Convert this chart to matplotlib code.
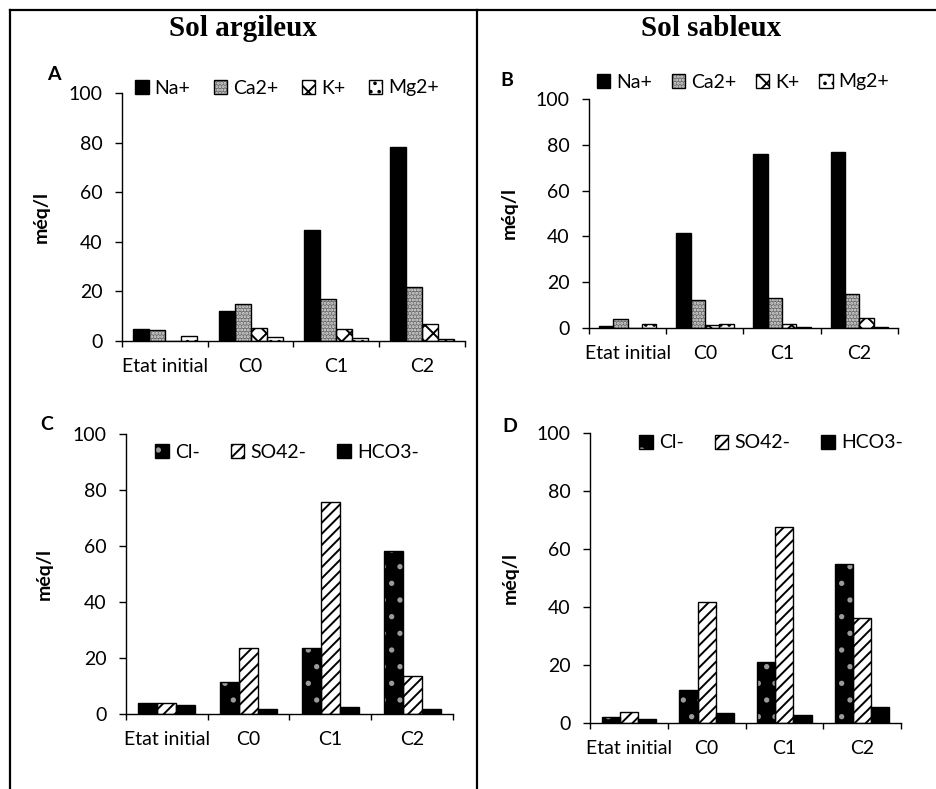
import matplotlib
matplotlib.use('Agg')
import matplotlib.pyplot as plt
from matplotlib.patches import Patch
from matplotlib.lines import Line2D
import numpy as np

plt.rcParams['font.family'] = ['Lato', 'DejaVu Sans']
plt.rcParams['hatch.linewidth'] = 1.4

# --- données ---
categories = ['Etat initial', 'C0', 'C1', 'C2']

cations = ['Na+', 'Ca2+', 'K+', 'Mg2+']
na_arg = [4.8, 12.2, 44.8, 78.3]
ca_arg = [4.6, 14.9, 17.1, 21.6]
k_arg = [0.0, 5.1, 5.0, 6.9]
mg_arg = [2.0, 1.5, 1.2, 0.8]

na_sab = [0.9, 41.3, 76.0, 76.8]
ca_sab = [4.1, 12.2, 13.1, 14.7]
k_sab = [0.0, 1.5, 1.7, 4.5]
mg_sab = [1.9, 1.6, 0.5, 0.5]

anions = ['Cl-', 'SO42-', 'HCO3-']
cl_arg = [4.1, 11.6, 23.4, 58.2]
so4_arg = [4.1, 23.4, 75.6, 13.4]
hco3_arg = [3.1, 1.8, 2.4, 1.8]

cl_sab = [1.9, 11.5, 21.0, 54.9]
so4_sab = [3.9, 41.8, 67.7, 36.2]
hco3_sab = [1.4, 3.4, 2.9, 5.5]

# styles: (couleur de fond, couleur du motif, motif)
styles_cations = [('black', 'black', None),
                  ('#6e6e6e', '#e0e0e0', '.....'),
                  ('white', 'black', 'xx'),
                  ('white', 'black', '..')]
styles_anions = [('black', '#9a9a9a', '.'),
                 ('white', 'black', '///'),
                 ('black', 'black', None)]

FS = 14
W, H = 937, 789
fig = plt.figure(figsize=(W / 100, H / 100), dpi=100)


def px_axes(left, top, right, bottom):
    return fig.add_axes([left / W, 1 - bottom / H, (right - left) / W, (bottom - top) / H])


def tracer(ax, series, noms, styles, largeur, lettre, lettre_xy, leg_xy, colsp, ylab_x):
    n = len(series)
    x = np.arange(len(categories)) + 0.5
    poignees = []
    for k, (vals, (fc, hc, h)) in enumerate(zip(series, styles)):
        pos = x + (k - (n - 1) / 2) * largeur
        ax.bar(pos, vals, largeur, color=fc, edgecolor=hc, hatch=h, linewidth=0, zorder=2)
        ax.bar(pos, vals, largeur, fill=False, edgecolor='black', linewidth=1.0, zorder=3)
        poignees.append((Patch(facecolor=fc, edgecolor=hc, hatch=h, linewidth=0),
                         Patch(fill=False, edgecolor='black', linewidth=1.0)))
    ax.set_xlim(0, 4)
    ax.set_ylim(0, 100)
    ax.set_yticks([0, 20, 40, 60, 80, 100])
    ax.set_xticks([0, 1, 2, 3, 4])
    ax.set_xticklabels([])
    ax.set_xticks(x, minor=True)
    ax.set_xticklabels(categories, minor=True, fontsize=FS)
    ax.tick_params(axis='x', which='major', direction='out', length=4.5, width=1)
    ax.tick_params(axis='x', which='minor', length=0, pad=12)
    ax.tick_params(axis='y', direction='out', length=5, width=1, pad=9, labelsize=FS)
    for s in ['top', 'right']:
        ax.spines[s].set_visible(False)
    for s in ['left', 'bottom']:
        ax.spines[s].set_linewidth(1.0)
    ax.set_ylabel('méq/l', fontsize=FS, fontweight='bold')
    ax.yaxis.set_label_coords(ylab_x, 0.5)
    fig.text(lettre_xy[0] / W, 1 - lettre_xy[1] / H, lettre, fontsize=FS,
             fontweight='bold', ha='center', va='center')
    fig.legend(poignees, noms, loc='center', ncol=n, frameon=False,
               bbox_to_anchor=(leg_xy[0] / W, 1 - leg_xy[1] / H),
               fontsize=FS, handlelength=0.7, handleheight=0.7,
               handletextpad=0.3, columnspacing=colsp, borderpad=0)


ax_a = px_axes(122, 93, 465, 341)
tracer(ax_a, [na_arg, ca_arg, k_arg, mg_arg], cations, styles_cations, 0.186,
       'A', (54, 74), (287, 88), 1.2, -0.21)

ax_b = px_axes(589, 99, 898, 328)
tracer(ax_b, [na_sab, ca_sab, k_sab, mg_sab], cations, styles_cations, 0.186,
       'B', (507, 81), (743, 82), 1.0, -0.23)

ax_c = px_axes(126, 434, 453, 714)
tracer(ax_c, [cl_arg, so4_arg, hco3_arg], anions, styles_anions, 0.233,
       'C', (47, 424), (287, 452), 1.6, -0.223)

ax_d = px_axes(590, 433, 901, 723)
tracer(ax_d, [cl_sab, so4_sab, hco3_sab], anions, styles_anions, 0.233,
       'D', (510, 427), (771, 443), 1.6, -0.23)

# titres
for txt, xc in [('Sol argileux', 243), ('Sol sableux', 711)]:
    fig.text(xc / W, 1 - 29 / H, txt, fontsize=21, fontweight='bold',
             family='Liberation Serif', ha='center', va='center')

# cadre du tableau
for xs, ys in [([10, 936], [10, 10]), ([10, 10], [10, 789]), ([477, 477], [10, 789])]:
    fig.add_artist(Line2D([v / W for v in xs], [1 - v / H for v in ys],
                          color='black', linewidth=1.6))

fig.savefig('out.png', dpi=100)
